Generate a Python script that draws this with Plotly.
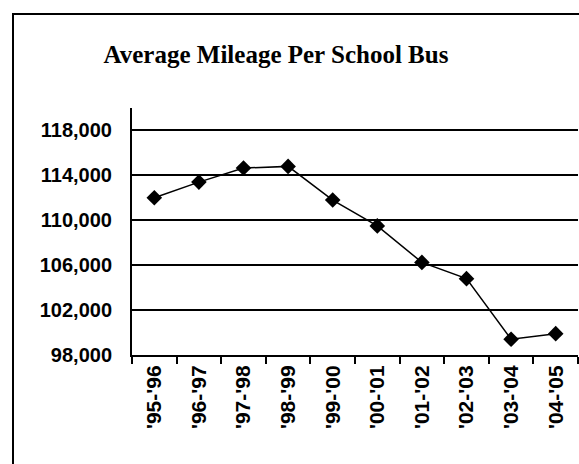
import plotly.graph_objects as go

# School years and average annual mileage per bus
years = ["'95-'96", "'96-'97", "'97-'98", "'98-'99", "'99-'00",
         "'00-'01", "'01-'02", "'02-'03", "'03-'04", "'04-'05"]
mileage = [112000, 113400, 114650, 114800, 111800,
           109500, 106250, 104800, 99400, 99900]

y_ticks = [98000, 102000, 106000, 110000, 114000, 118000]
y_tick_text = ["98,000", "102,000", "106,000", "110,000", "114,000", "118,000"]

W, H = 579, 464
ML, MR, MT, MB = 132, 1, 108, 109
plot_w = W - ML - MR
plot_h = H - MT - MB

fig = go.Figure()
fig.add_trace(go.Scatter(
    x=years, y=mileage, mode="lines+markers",
    line=dict(color="black", width=1.5),
    marker=dict(symbol="diamond", size=12, color="black"),
    showlegend=False, hoverinfo="skip",
))

# outer chart frame (runs off the right and bottom edges)
fx = lambda px: (px - ML) / plot_w
fy = lambda py: (H - MB - py) / plot_h
fig.add_shape(type="rect", xref="paper", yref="paper",
              x0=fx(13), x1=fx(600), y0=fy(490), y1=fy(14),
              line=dict(color="black", width=2), fillcolor="rgba(0,0,0,0)",
              layer="above")

fig.update_layout(
    width=W, height=H,
    margin=dict(l=ML, r=MR, t=MT, b=MB, pad=0),
    paper_bgcolor="white", plot_bgcolor="white",
    title=dict(text="<b>Average Mileage Per School Bus</b>",
               font=dict(family="Liberation Serif", size=25, color="black"),
               x=276 / W, xref="container", xanchor="center",
               y=1 - 54 / H, yref="container", yanchor="middle"),
    xaxis=dict(
        type="category", tickmode="array", tickvals=years, ticktext=years,
        tickangle=-90, tickson="boundaries", ticks="outside", ticklen=7,
        tickwidth=1.5, tickcolor="black",
        showline=True, linecolor="black", linewidth=2,
        showgrid=False, zeroline=False,
        tickfont=dict(family="Liberation Sans", size=21, color="black",
                      weight="bold"),
        range=[-0.5, len(years) - 0.5],
    ),
    yaxis=dict(
        range=[98000, 120000], tickmode="array",
        tickvals=y_ticks, ticktext=y_tick_text,
        showline=True, linecolor="black", linewidth=2,
        showgrid=True, gridcolor="black", gridwidth=1.5,
        zeroline=False, ticks="", ticklabelstandoff=14,
        tickfont=dict(family="Liberation Sans", size=20, color="black",
                      weight="bold"),
    ),
)

fig.write_html("out.html")
